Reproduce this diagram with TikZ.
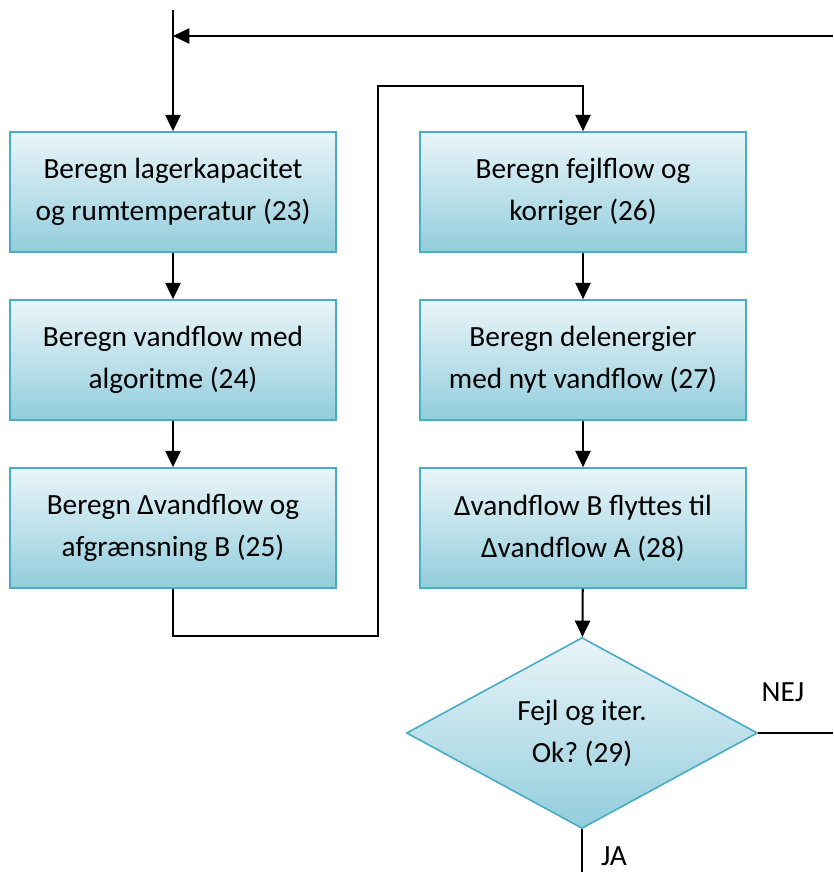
\documentclass[tikz,border=0pt]{standalone}
\usepackage{fontspec}
\setmainfont{Carlito}
\usetikzlibrary{shapes.geometric,arrows.meta}
\frenchspacing
\begin{document}
\begin{tikzpicture}[x=0.03cm,y=-0.03cm]
		\tikzstyle{process}=[rectangle,draw=boxline,line width=1.4pt,top color=boxtop,bottom color=boxbottom,minimum width=9.78cm,minimum height=3.6cm,align=center,font=\fontsize{25}{36}\selectfont]
		\tikzstyle{decision}=[diamond,draw=boxline,line width=1.4pt,top color=boxtop,bottom color=boxbottom,aspect=1.84,minimum width=10.53cm,minimum height=5.73cm,inner sep=0pt,align=center,font=\fontsize{25}{36}\selectfont]
		\tikzstyle{edge}=[draw,line width=1.8pt,-{Triangle[length=14pt,width=13pt]}]
		\tikzstyle{line}=[draw,line width=1.8pt]
		\definecolor{boxline}{HTML}{4BACC6}
		\definecolor{boxtop}{HTML}{EAF5F9}
		\definecolor{boxbottom}{HTML}{92CDDC}
		\useasboundingbox (0,0) rectangle (833,872);
		\begin{scope}
			\node [process] (b23) at (173,192) {Beregn lagerkapacitet\\og rumtemperatur (23)};
			\node [process] (b24) at (173,360) {Beregn vandflow med\\algoritme (24)};
			\node [process] (b25) at (173,528) {Beregn Δvandflow og\\afgrænsning B (25)};
			\node [process] (b26) at (583,192) {Beregn fejlflow og\\korriger (26)};
			\node [process] (b27) at (583,360) {Beregn delenergier\\med nyt vandflow (27)};
			\node [process] (b28) at (583,528) {Δvandflow B flyttes til\\Δvandflow A (28)};
			\node [decision] (d29) at (582,733) {Fejl og iter.\\Ok? (29)};
			\coordinate (start) at (173,10);
			\coordinate (join) at (173,36);
			\coordinate (back) at (833,36);
			\coordinate (nej) at (833,733);
			\coordinate (ja) at (582,872);
			\node [font=\fontsize{25}{30}\selectfont] (lnej) at (783,692) {NEJ};
			\node [font=\fontsize{25}{30}\selectfont,inner sep=1pt] (lja) at (614,856) {JA};
			\path[edge] (start) -- (b23);
			\path[edge] (back) -- (join);
			\path[edge] (b23) -- (b24);
			\path[edge] (b24) -- (b25);
			\path[edge] (b25.south) |- (378,636) -- (378,86) -| (b26.north);
			\path[edge] (b26) -- (b27);
			\path[edge] (b27) -- (b28);
			\path[edge] (b28) -- (d29);
			\path[line] (d29.east) -- (nej);
			\path[line] (d29.south) -- (ja);
		\end{scope}
\end{tikzpicture}
\end{document}
